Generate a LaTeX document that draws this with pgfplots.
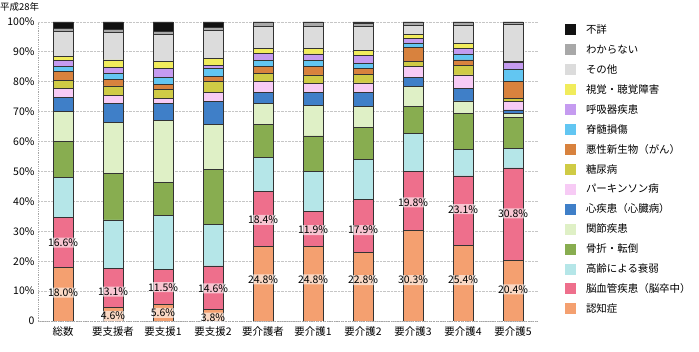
\documentclass[border=0pt]{standalone}
\usepackage{fontspec}
\setmainfont{Noto Sans CJK JP}
\usepackage{pgfplots}
\usepackage{pgfplotstable}
\pgfplotsset{compat=1.18}

\definecolor{c1}{HTML}{F4A070}
\definecolor{c2}{HTML}{EE6F8C}
\definecolor{c3}{HTML}{B5E6E8}
\definecolor{c4}{HTML}{88AD50}
\definecolor{c5}{HTML}{DFF0C6}
\definecolor{c6}{HTML}{3F7FC8}
\definecolor{c7}{HTML}{F7CBF5}
\definecolor{c8}{HTML}{CFCB45}
\definecolor{c9}{HTML}{D8823E}
\definecolor{c10}{HTML}{62C6F2}
\definecolor{c11}{HTML}{C59BF0}
\definecolor{c12}{HTML}{F1EC5C}
\definecolor{c13}{HTML}{DCDCDC}
\definecolor{c14}{HTML}{A8A8A8}
\definecolor{c15}{HTML}{111111}
\definecolor{edge}{HTML}{333333}

\pgfplotstableread{
x c1 c2 c3 c4 c5 c6 c7 c8 c9 c10 c11 c12 c13 c14 c15
0 18.0 16.6 13.3 12.1 10.0 4.8 3.0 2.8 2.8 1.6 2.0 1.4 8.3 1.1 2.2
1 4.6 13.1 16.1 15.4 17.2 6.4 2.6 3.2 2.2 2.0 1.9 2.6 9.1 1.2 2.4
2 5.6 11.5 18.1 11.2 20.6 5.8 1.7 2.8 1.7 2.5 3.0 2.2 9.0 1.1 3.2
3 3.8 14.6 14.0 18.4 15.0 7.5 3.2 3.5 1.9 2.6 1.1 2.3 9.2 1.0 1.9
4 24.8 18.4 11.5 10.9 7.2 3.6 3.6 2.8 2.2 2.0 2.5 1.7 7.2 1.4 0.2
5 24.8 11.9 13.2 12.0 10.3 4.2 2.9 3.0 2.7 2.0 2.3 1.9 7.3 1.3 0.2
6 22.8 17.9 13.4 10.5 7.3 4.5 3.2 3.0 1.9 1.7 2.5 1.7 8.0 1.0 0.6
7 30.3 19.8 12.7 8.9 6.6 3.3 3.4 1.7 4.7 1.6 1.5 1.2 3.0 1.0 0.3
8 25.4 23.1 9.0 11.9 4.2 4.2 4.5 3.3 1.7 2.0 1.9 1.7 5.9 0.9 0.3
9 20.4 30.8 6.6 10.3 1.3 1.2 2.7 1.2 5.5 4.3 2.2 0.2 12.5 0.6 0.2
}\data

\pgfplotstableread{
x y v
0 9.5 18.0
0 26.2 16.6
1 9.8 13.1
1 1.7 4.6
2 11.3 11.5
2 2.7 5.6
3 10.9 14.6
3 1.1 3.8
4 13.9 24.8
4 33.8 18.4
5 13.9 24.8
5 30.4 11.9
6 13.7 22.8
6 30.4 17.9
7 13.7 30.3
7 39.7 19.8
8 13.7 25.4
8 37.4 23.1
9 10.6 20.4
9 36.0 30.8
}\labels

\pgfplotsset{
  myaxis/.style={scale only axis, width=500bp, height=299bp,
    xmin=-0.5, xmax=9.5, ymin=0, ymax=100, enlargelimits=false,
    at={(38bp,31bp)}, anchor=south west},
  sq/.style={legend image code/.code={\fill[##1,draw=none] (0bp,-5.5bp) rectangle (11bp,5.5bp);}},
  seg/.style={fill=#1, draw=edge, line width=0.8bp, sq},
}

\begin{document}
\begin{tikzpicture}
\useasboundingbox (0,0) rectangle (699bp,352bp);
\node[anchor=west, inner sep=0pt, font=\fontsize{9.5}{11}\selectfont] at (0bp,345bp) {平成28年};
\begin{axis}[myaxis,
  ybar stacked, bar width=20bp,
  axis x line=bottom, axis y line=left,
  axis line style={-, draw=gray!70, densely dotted, line width=0.8pt},
  ymajorgrids, grid style={gray!45, densely dotted, line width=0.8pt},
  major tick length=0pt,
  xtick={0,...,9},
  xticklabels={総数,要支援者,要支援1,要支援2,要介護者,要介護1,要介護2,要介護3,要介護4,要介護5},
  ytick={0,10,...,100},
  yticklabels={0,10\%,20\%,30\%,40\%,50\%,60\%,70\%,80\%,90\%,100\%},
  /pgf/number format/assume math mode=true,
  tick label style={font=\fontsize{10.5}{12}\selectfont},
  x tick label style={yshift=-2bp},
  reverse legend,
  legend cell align=left,
  legend style={at={(1.054,1.007)}, anchor=north west, draw=none, fill=none,
    inner sep=0pt, outer sep=0pt, row sep=0pt,
    font=\fontsize{10.5}{12}\selectfont,
    nodes={inner sep=0pt, minimum height=19.93bp},
    /tikz/every odd column/.append style={column sep=10bp}},
]
\addplot[seg=c1] table[x=x,y=c1]{\data}; \addlegendentry{認知症}
\addplot[seg=c2] table[x=x,y=c2]{\data}; \addlegendentry{脳血管疾患（脳卒中）}
\addplot[seg=c3] table[x=x,y=c3]{\data}; \addlegendentry{高齢による衰弱}
\addplot[seg=c4] table[x=x,y=c4]{\data}; \addlegendentry{骨折・転倒}
\addplot[seg=c5] table[x=x,y=c5]{\data}; \addlegendentry{関節疾患}
\addplot[seg=c6] table[x=x,y=c6]{\data}; \addlegendentry{心疾患（心臓病）}
\addplot[seg=c7] table[x=x,y=c7]{\data}; \addlegendentry{パーキンソン病}
\addplot[seg=c8] table[x=x,y=c8]{\data}; \addlegendentry{糖尿病}
\addplot[seg=c9] table[x=x,y=c9]{\data}; \addlegendentry{悪性新生物（がん）}
\addplot[seg=c10] table[x=x,y=c10]{\data}; \addlegendentry{脊髄損傷}
\addplot[seg=c11] table[x=x,y=c11]{\data}; \addlegendentry{呼吸器疾患}
\addplot[seg=c12] table[x=x,y=c12]{\data}; \addlegendentry{視覚・聴覚障害}
\addplot[seg=c13] table[x=x,y=c13]{\data}; \addlegendentry{その他}
\addplot[seg=c14] table[x=x,y=c14]{\data}; \addlegendentry{わからない}
\addplot[seg=c15] table[x=x,y=c15]{\data}; \addlegendentry{不詳}
\end{axis}
\begin{axis}[myaxis, hide axis, /pgf/number format/assume math mode=true]
\addplot[draw=none, mark=none, point meta=explicit,
  nodes near coords={\pgfmathprintnumber[fixed,fixed zerofill,precision=1,assume math mode=true]{\pgfplotspointmeta}\%},
  every node near coord/.append style={anchor=center, inner sep=1pt,
    fill=white, fill opacity=0.6, text opacity=1, rounded corners=3pt,
    font=\fontsize{10.5}{12}\selectfont}]
  table[x=x,y=y,meta=v]{\labels};
\end{axis}
\end{tikzpicture}
\end{document}
